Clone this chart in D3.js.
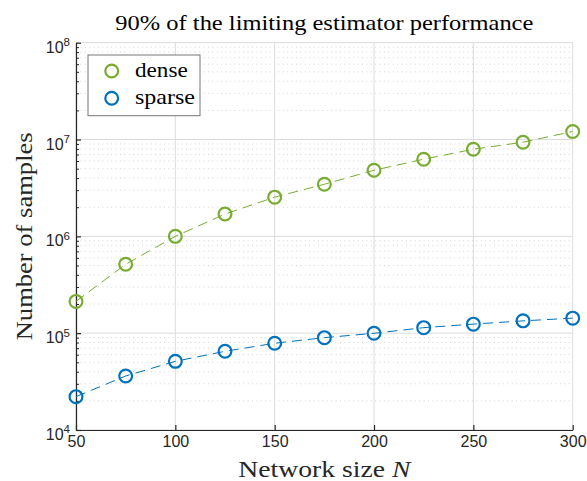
<!DOCTYPE html>
<html>
<head>
<meta charset="utf-8">
<script src="https://cdn.jsdelivr.net/npm/d3@7"></script>
<style>
  body { margin: 0; background: #fff; }
  svg { display: block; }
</style>
</head>
<body>
<svg id="chart" width="587" height="481"></svg>
<script>
// Network sizes and samples needed to reach 90% of the limiting performance
const networkSize   = [50, 75, 100, 125, 150, 175, 200, 225, 250, 275, 300];
const denseSamples  = [2.13e5, 5.15e5, 1.0e6, 1.70e6, 2.54e6, 3.45e6, 4.82e6, 6.26e6, 7.94e6, 9.38e6, 1.21e7];
const sparseSamples = [2.21e4, 3.61e4, 5.12e4, 6.50e4, 7.87e4, 8.99e4, 9.97e4, 1.14e5, 1.24e5, 1.34e5, 1.43e5];

const seriesNames  = ["dense", "sparse"];
const seriesColors = ["#77AC30", "#0072BD"];

const xTicks     = [50, 100, 150, 200, 250, 300];
const yExponents = [4, 5, 6, 7, 8];

const titleText  = "90% of the limiting estimator performance";
const yLabelText = "Number of samples";
const xLabelText = "Network size ";

const SERIF = '"Liberation Serif", "Times New Roman", serif';
const SANS  = '"Liberation Sans", Arial, sans-serif';

const W = 587, H = 481;
const margin = { left: 76, right: 14.3, top: 42.7, bottom: 51 };
const innerW = W - margin.left - margin.right;
const innerH = H - margin.top - margin.bottom;

const svg = d3.select("#chart");
const g = svg.append("g").attr("transform", `translate(${margin.left},${margin.top})`);

const x = d3.scaleLinear().domain([50, 300]).range([0, innerW]);
const y = d3.scaleLog().domain([1e4, 1e8]).range([innerH, 0]);

// minor decade values 2..9 x 10^k
const minorVals = [];
yExponents.slice(0, -1).forEach(e => {
  for (let m = 2; m <= 9; m++) minorVals.push(m * Math.pow(10, e));
});

// minor grid (dotted)
g.append("g").selectAll("line").data(minorVals).join("line")
  .attr("x1", 0).attr("x2", innerW)
  .attr("y1", d => y(d)).attr("y2", d => y(d))
  .attr("stroke", "#d4d4d4").attr("stroke-width", 1)
  .attr("stroke-dasharray", "1,3.4");

// major grid
g.append("g").selectAll("line").data(yExponents).join("line")
  .attr("x1", 0).attr("x2", innerW)
  .attr("y1", e => y(Math.pow(10, e))).attr("y2", e => y(Math.pow(10, e)))
  .attr("stroke", "#dcdcdc").attr("stroke-width", 1);
g.append("g").selectAll("line").data(xTicks).join("line")
  .attr("x1", d => x(d)).attr("x2", d => x(d))
  .attr("y1", 0).attr("y2", innerH)
  .attr("stroke", "#dcdcdc").attr("stroke-width", 1);

// x axis (ticks pointing inward)
const xAxis = d3.axisBottom(x).tickValues(xTicks).tickSizeInner(-5).tickSizeOuter(0)
  .tickFormat(d3.format("d")).tickPadding(14);
const gx = g.append("g").attr("transform", `translate(0,${innerH})`).call(xAxis);
gx.select(".domain").attr("stroke", "#262626").attr("stroke-width", 1.2);
gx.selectAll(".tick line").attr("stroke", "#262626").attr("stroke-width", 1.2);
gx.selectAll(".tick text")
  .attr("fill", "#262626").attr("font-family", SANS)
  .attr("font-size", 16).attr("dy", "0.2em");

// y axis: major ticks
const yAxis = d3.axisLeft(y).tickValues(yExponents.map(e => Math.pow(10, e)))
  .tickSizeInner(-5).tickSizeOuter(0).tickFormat("");
const gy = g.append("g").call(yAxis);
gy.select(".domain").attr("stroke", "#262626").attr("stroke-width", 1.2);
gy.selectAll(".tick line").attr("stroke", "#262626").attr("stroke-width", 1.2);

// y axis: minor ticks
const gyMinor = g.append("g").call(
  d3.axisLeft(y).tickValues(minorVals).tickSizeInner(-3).tickSizeOuter(0).tickFormat(""));
gyMinor.select(".domain").remove();
gyMinor.selectAll(".tick line").attr("stroke", "#262626").attr("stroke-width", 1);

// y tick labels as 10^e
const yLab = g.append("g").selectAll("text").data(yExponents).join("text")
  .attr("x", -6).attr("y", e => y(Math.pow(10, e)) + 10)
  .attr("text-anchor", "end")
  .attr("fill", "#262626")
  .attr("font-family", SANS)
  .attr("font-size", 16);
yLab.append("tspan").text("10");
yLab.append("tspan").attr("dy", -6.5).attr("font-size", 11.5).text(e => e);

// series lines and markers
const seriesData = [denseSamples, sparseSamples];
const line = d3.line().x((d, i) => x(networkSize[i])).y(d => y(d));

seriesData.forEach((vals, k) => {
  g.append("path").datum(vals)
    .attr("d", line)
    .attr("fill", "none")
    .attr("stroke", seriesColors[k])
    .attr("stroke-width", 1)
    .attr("stroke-dasharray", "10,6");
  g.append("g").selectAll("circle").data(vals).join("circle")
    .attr("cx", (d, i) => x(networkSize[i]))
    .attr("cy", d => y(d))
    .attr("r", 6.4)
    .attr("fill", "none")
    .attr("stroke", seriesColors[k])
    .attr("stroke-width", 2.2);
});

// legend
const legendWidths = [52.7, 60];
const legend = g.append("g").attr("transform", `translate(${88 - margin.left},${55 - margin.top})`);
legend.append("rect")
  .attr("x", 0).attr("y", 0).attr("width", 112).attr("height", 60.7)
  .attr("fill", "#fff").attr("stroke", "#767676").attr("stroke-width", 1);
seriesNames.forEach((name, k) => {
  const cy = 16 + k * 27.3;
  legend.append("circle")
    .attr("cx", 23.7).attr("cy", cy).attr("r", 6.4)
    .attr("fill", "none").attr("stroke", seriesColors[k]).attr("stroke-width", 2.2);
  legend.append("text")
    .attr("x", 47).attr("y", cy + 6)
    .attr("font-family", SERIF)
    .attr("font-size", 22).attr("fill", "#000")
    .attr("textLength", legendWidths[k]).attr("lengthAdjust", "spacingAndGlyphs")
    .text(name);
});

// title
svg.append("text")
  .attr("x", margin.left + innerW / 2).attr("y", 30)
  .attr("text-anchor", "middle")
  .attr("font-family", SERIF)
  .attr("font-size", 21).attr("fill", "#000")
  .attr("textLength", 418).attr("lengthAdjust", "spacingAndGlyphs")
  .text(titleText);

// x label
const xl = svg.append("text")
  .attr("x", margin.left + innerW / 2).attr("y", 477)
  .attr("text-anchor", "middle")
  .attr("font-family", SERIF)
  .attr("font-size", 23).attr("fill", "#262626")
  .attr("textLength", 172).attr("lengthAdjust", "spacingAndGlyphs");
xl.append("tspan").text(xLabelText);
xl.append("tspan").attr("font-style", "italic").text("N");

// y label
svg.append("text")
  .attr("transform", `translate(32,${margin.top + innerH / 2}) rotate(-90)`)
  .attr("text-anchor", "middle")
  .attr("font-family", SERIF)
  .attr("font-size", 23).attr("fill", "#262626")
  .attr("textLength", 208).attr("lengthAdjust", "spacingAndGlyphs")
  .text(yLabelText);
</script>
</body>
</html>
